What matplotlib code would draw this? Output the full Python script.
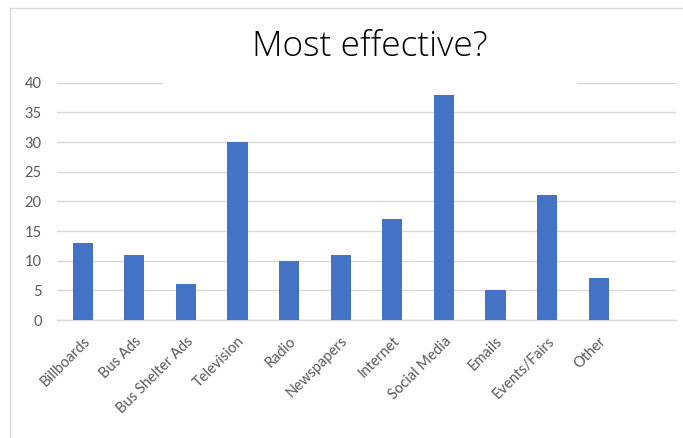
import matplotlib
matplotlib.use("Agg")
import matplotlib.pyplot as plt
from matplotlib.patches import Rectangle
from matplotlib.lines import Line2D

categories = ["Billboards", "Bus Ads", "Bus Shelter Ads", "Television", "Radio",
              "Newspapers", "Internet", "Social Media", "Emails", "Events/Fairs", "Other"]
counts = [13, 11, 6, 30, 10, 11, 17, 38, 5, 21, 7]
y_ticks = [0, 5, 10, 15, 20, 25, 30, 35, 40]

W, H = 683, 438
BAR_COLOR = "#4472C4"
GRID_COLOR = "#D9D9D9"
LABEL_COLOR = "#595959"

plt.rcParams["font.family"] = ["Lato", "DejaVu Sans"]

fig = plt.figure(figsize=(W / 100, H / 100), dpi=100)
ax = fig.add_axes([57 / W, 1 - 320 / H, (676 - 57) / W, (320 - 82.7) / H])

x = list(range(len(categories)))
ax.bar(x, counts, width=0.39, color=BAR_COLOR, zorder=3)

# chart has room for one more (empty) category on the right
ax.set_xlim(-0.5, len(categories) + 0.5)
ax.set_ylim(0, 40)
ax.set_yticks(y_ticks)
ax.set_xticks(x)
ax.set_xticklabels(categories, rotation=45, ha="right", rotation_mode="anchor")

ax.grid(axis="y", color=GRID_COLOR, linewidth=1, zorder=0)
ax.set_axisbelow(True)
for side in ["top", "right", "left"]:
    ax.spines[side].set_visible(False)
ax.spines["bottom"].set_color(GRID_COLOR)
ax.spines["bottom"].set_linewidth(1)
ax.tick_params(axis="both", length=0, colors=LABEL_COLOR)
ax.tick_params(axis="y", pad=11, labelsize=10.5)
ax.tick_params(axis="x", pad=10, labelsize=10.5)

# white title area hides part of the top gridline
fig.patches.append(Rectangle((163 / W, 1 - 90 / H), (577 - 163) / W, 14 / H,
                             transform=fig.transFigure, facecolor="white",
                             edgecolor="none", zorder=1))
fig.text(370 / W, 1 - 47 / H, "Most effective?", ha="center", va="center",
         fontsize=25.5, fontweight="light", family=["Open Sans", "DejaVu Sans"],
         color="black")

# chart frame
fig.lines.append(Line2D([10 / W, 10 / W], [0, 1 - 8 / H], transform=fig.transFigure,
                        color=GRID_COLOR, linewidth=1))
fig.lines.append(Line2D([10 / W, 1], [1 - 8 / H, 1 - 8 / H], transform=fig.transFigure,
                        color=GRID_COLOR, linewidth=1))

fig.savefig("out.png", dpi=100)
